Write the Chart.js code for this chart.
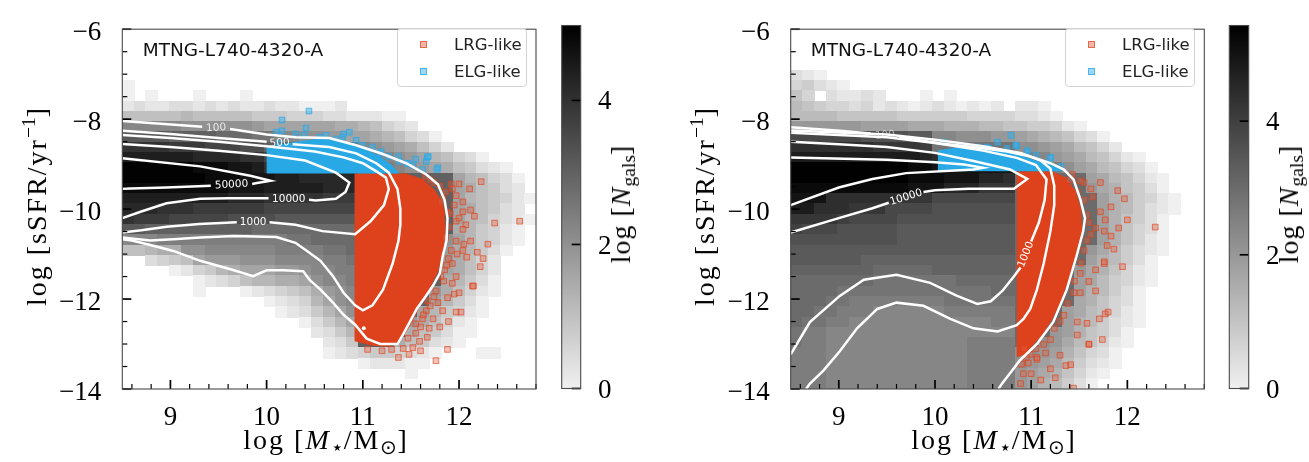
<!DOCTYPE html>
<html>
<head>
<meta charset="utf-8">
<title>MTNG-L740-4320-A sSFR vs stellar mass</title>
<script src="https://cdn.jsdelivr.net/npm/chart.js@4.4.1/dist/chart.umd.min.js"></script>
<style>
  body { margin: 0; background: #fff; }
  #wrap { position: relative; width: 1309px; height: 462px; overflow: hidden; }
  canvas { position: absolute; top: 0; }
  .math { position: absolute; font-family: "Liberation Serif", serif; font-size: 28px; line-height: 1; white-space: nowrap; color: #000; letter-spacing: 2px; }
  .math sub, .math sup { font-size: 0.7em; line-height: 0; letter-spacing: 0; }
  .math sup { vertical-align: 0.55em; }
  .math sub { vertical-align: -0.25em; }
  .rot { transform: translate(-50%, -50%) rotate(-90deg); }
  .xlab { transform: translateX(-50%); }
  .title { position: absolute; font-family: "DejaVu Sans", sans-serif; font-size: 18.5px; line-height: 1; color: #111; white-space: nowrap; }
  .legend { position: absolute; top: 28px; width: 128px; height: 57px; border: 1px solid #d3d3d3; border-radius: 4px; background: rgba(255,255,255,0.85); }
  .legend .mk { position: absolute; left: 21.7px; width: 5px; height: 5px; }
  .legend .tx { position: absolute; left: 56px; font-family: "DejaVu Sans", sans-serif; font-size: 16.5px; line-height: 1; color: #222; white-space: nowrap; }
</style>
</head>
<body>
<div id="wrap">
  <canvas id="mainL" width="560" height="462" style="left:0px"></canvas>
  <canvas id="cbarL" width="120" height="462" style="left:545px"></canvas>
  <canvas id="mainR" width="560" height="462" style="left:668px"></canvas>
  <canvas id="cbarR" width="96" height="462" style="left:1213px"></canvas>

  <div class="title" id="titleL" style="left:142.7px;top:41px"></div>
  <div class="title" id="titleR" style="left:810.7px;top:41px"></div>

  <div class="legend" style="left:397px">
    <div class="mk" style="top:12px;background:rgba(230,110,80,0.5);border:1px solid rgba(222,66,28,0.65)"></div>
    <div class="tx lrg" style="top:7.7px"></div>
    <div class="mk" style="top:39px;background:rgba(60,175,235,0.5);border:1px solid rgba(40,168,229,0.7)"></div>
    <div class="tx elg" style="top:34.7px"></div>
  </div>
  <div class="legend" style="left:1065px">
    <div class="mk" style="top:12px;background:rgba(230,110,80,0.5);border:1px solid rgba(222,66,28,0.65)"></div>
    <div class="tx lrg" style="top:7.7px"></div>
    <div class="mk" style="top:39px;background:rgba(60,175,235,0.5);border:1px solid rgba(40,168,229,0.7)"></div>
    <div class="tx elg" style="top:34.7px"></div>
  </div>

  <div class="math rot" style="left:37px;top:206px">log [sSFR/yr<sup>−1</sup>]</div>
  <div class="math rot" style="left:705px;top:206px">log [sSFR/yr<sup>−1</sup>]</div>
  <div class="math xlab" style="left:326px;top:426px">log [<i>M</i><sub>⋆</sub>/M<sub>⊙</sub>]</div>
  <div class="math xlab" style="left:994px;top:426px">log [<i>M</i><sub>⋆</sub>/M<sub>⊙</sub>]</div>
  <div class="math rot" style="left:621px;top:204px;letter-spacing:1px">log [<i>N</i><sub>gals</sub>]</div>
  <div class="math rot" style="left:1289px;top:204px;letter-spacing:1px">log [<i>N</i><sub>gals</sub>]</div>
</div>
<script>
// ---- values ----
const panelTitle = 'MTNG-L740-4320-A';
const seriesNames = ['LRG-like', 'ELG-like'];

const xRange = [8.5, 12.8];
const yRange = [-14, -6];
const nBinsX = 35;
const nBinsY = 35;
// one character per bin, top row (sSFR = -6) first; '.' = empty bin,
// '0'..'R' = log N_gals in steps of 0.2
const levelChars = '0123456789ABCDEFGHIJKLMNOPQR';

const histLeft = [
  '...................................',
  '...................................',
  '...................................',
  '...................................',
  '...................................',
  '0..................................',
  '0.0...0...0........................',
  '1211221212112110001................',
  '555556555554443332211100...........',
  'BBBBBAAAAAA98888887765321..........',
  'GGGGFFFFEEEDDBBAA9988765320........',
  'KKKKJJJIIIHHFFFFFFFFBA987531.......',
  'MMMMMMLLLLKKIIIIIIIICCBA9865320....',
  'PPPPPPOOONNMKKKKKKKKEDCBA98754210..',
  'PPPPPPPOOONNNMMLLLLLFFFFFFFF865320.',
  'OOOOOOOOONNNMMMMMLLLFFFFFFFF875421.',
  'MMMMMMMMMLLLKKKKKJJJFFFFFFFF8654310',
  'LLLKKKJJJJJJIIIIIIIIFFFFFFFF875421.',
  'KJJJIIIIIHHHHGGGGGGGFFFFFFFF8653210',
  'GGFFFFFFFFFEEEEEEEEEFFFFFFFF764310.',
  'BBBCCCCCCCCCCCDDEEEEFFFFFFFA864310.',
  '55677AABBBBBBCCCCDDEFFFFFFF976420..',
  '..23458999AAABBBBCCDFFFFFFF97531...',
  '....01346788899ABBCCFFFFFFF87531...',
  '......0123566778ABBCFFFFFFF76420...',
  '......0...01234579ABFFFFFF975310...',
  '............012368ABFFFFFF86420....',
  '.............012468AFFFFF864310....',
  '...............02468FFFF975310.....',
  '................1246FFFF754200.....',
  '.................124FFF754210......',
  '.................0123443210...00...',
  '....................011100.........',
  '........................0..........',
  '...................................'
];

const histRight = [
  '...................................',
  '...................................',
  '...................................',
  '...................................',
  '210................................',
  '34210..............................',
  '53.21121...0.0.....................',
  '654332312101210101.110.............',
  '66665555544444433332210............',
  'AAAAAA9999888777665544310..........',
  'JJJJJJIIIIHHCCBBBAA98765320........',
  'MMMMMMMLLLLKEEEEEEEBBA986531.......',
  'OOOOOOOOOOONMMMMMMMFDCA9865310.....',
  'RRRRRRRRRRQQPPPPPPPKHFDB9865320....',
  'RRRRRRRRRRQQQPPPNNMFFFFFF9865310...',
  'QQQQQQQQQQPPPNNNLLLFFFFFFA875420...',
  'PPPMMMMMMLLLJJJJJJJFFFFFFF9764310..',
  'OOMMMLLLJJJJIIIIIIIFFFFFFF9764210..',
  'LLLLKJJJJIIIIIIIIIIFFFFFFF975420...',
  'KJJJIIIIIHHHHHHHHHHFFFFFFF975320...',
  'IIIIIIIIIHHHHHHHHHHFFFFFFF975310...',
  'HHHHHHHHHHHHHHHHHHHFFFFFFA864210...',
  'HHHHHHGGGGGGGGGGGGGFFFFFF976420....',
  'GGGGGGGFFFFFGGGGGGGFFFFFA875310....',
  'FFFFFFFEEEEEEEFFFFFFFFFF9864310....',
  'FFFFEEEEEEEEEEEEEFFFFFFF976420.....',
  'FFFEEDDDDDDDDEEEEEEFFFFF875320.....',
  'FFEEDDDCCCCCCDDDDDDFFFF9865310.....',
  'FEEDDCCCCCCCCCCCCDDFFFF9764210.....',
  'EDDCCCCCCCCCCCCCCCCFFFA975420......',
  'EDDCCCCCCCCCCCCDDDDFFBA865310......',
  'DDDCCCCCCCCCCCCDDDDBBA975320.......',
  'DDDCCCCCCCCCCCCDDDDBA9864210.......',
  'DDDCCCCCCCCCCCCDDDDA9875310........',
  'DDDCCCCCCCCCCCCDDDDA976420.........'
];

const cbarMaxLeft = 5.04;
const cbarMaxRight = 5.43;
const cbarTicks = [0, 2, 4];
const xMajorTicks = [9, 10, 11, 12];
const yMajorTicks = [-14, -12, -10, -8, -6];

// contour lines (white), split where the inline labels sit
const contoursLeft = [
  [[8.5,-8.04],[8.9,-8.1],[9.33,-8.17]],
  [[9.62,-8.22],[10.0,-8.34],[10.3,-8.4],[10.65,-8.42],[10.93,-8.58],[11.2,-8.77],[11.45,-8.98],[11.66,-9.23],[11.78,-9.45],[11.85,-9.8],[11.88,-10.2],[11.87,-10.7],[11.83,-11.05],[11.8,-11.43],[11.73,-11.7],[11.66,-11.92],[11.56,-12.22],[11.49,-12.5],[11.42,-12.78],[11.36,-13.0],[11.18,-13.0],[11.04,-12.88],[10.92,-12.57],[10.8,-12.35],[10.69,-12.08],[10.56,-11.79],[10.45,-11.58],[10.38,-11.38],[10.17,-11.36],[10.0,-11.36],[9.86,-11.49],[9.66,-11.36],[9.31,-11.15],[9.03,-10.93],[8.76,-10.78],[8.6,-10.7],[8.5,-10.67]],
  [[8.5,-8.26],[9.0,-8.33],[9.5,-8.42],[10.0,-8.5]],
  [[10.27,-8.56],[10.65,-8.62],[10.93,-8.76],[11.14,-8.98],[11.27,-9.19],[11.36,-9.55],[11.39,-9.99],[11.39,-10.35],[11.37,-10.71],[11.31,-11.21],[11.21,-11.79],[11.1,-12.14],[11.0,-12.25],[10.92,-12.14],[10.8,-11.86],[10.69,-11.49],[10.56,-11.15],[10.42,-10.93],[10.3,-10.75],[10.1,-10.62],[9.66,-10.6],[9.31,-10.63],[9.03,-10.67],[8.79,-10.7],[8.5,-10.63]],
  [[8.5,-8.35],[9.0,-8.42],[9.5,-8.5],[10.0,-8.6],[10.5,-8.72],[10.8,-8.85],[11.0,-8.98],[11.14,-9.16],[11.24,-9.3],[11.27,-9.55],[11.22,-9.91],[11.08,-10.27],[10.92,-10.56],[10.58,-10.49],[10.3,-10.35],[10.03,-10.29]],
  [[9.69,-10.29],[9.3,-10.33],[8.96,-10.39],[8.7,-10.47],[8.5,-10.52]],
  [[8.5,-8.55],[9.0,-8.62],[9.5,-8.7],[10.0,-8.8],[10.4,-8.92],[10.72,-9.19],[10.86,-9.41],[10.82,-9.62],[10.72,-9.77],[10.51,-9.81],[10.44,-9.79]],
  [[10.02,-9.76],[9.6,-9.76],[9.31,-9.77],[8.96,-9.87],[8.69,-10.06],[8.5,-10.2]],
  [[8.5,-8.87],[9.31,-9.05],[9.83,-9.26],[10.04,-9.37],[9.9,-9.42],[9.85,-9.44]],
  [[9.42,-9.48],[8.96,-9.52],[8.5,-9.55]]
];
const contourLabelsLeft = [
  { t: '100', x: 9.475, y: -8.195, r: -4, a: 0.8 },
  { t: '500', x: 10.135, y: -8.53, r: -4, a: 0.95 },
  { t: '50000', x: 9.635, y: -9.46, r: -3, a: 1 },
  { t: '10000', x: 10.23, y: -9.775, r: 0, a: 1 },
  { t: '1000', x: 9.86, y: -10.29, r: 0, a: 1 }
];
const dotsLeft = [[11.01, -12.65]];

const contoursRight = [
  [[8.5,-8.18],[9.01,-8.26],[9.33,-8.32]],
  [[9.63,-8.4],[10.06,-8.54],[10.4,-8.62],[10.75,-8.72],[10.99,-8.83],[11.2,-8.98],[11.34,-9.12],[11.44,-9.34],[11.51,-9.77],[11.56,-10.2],[11.54,-10.5],[11.47,-11.06],[11.37,-11.79],[11.23,-12.51],[11.06,-13.0],[10.88,-13.37],[10.78,-13.65],[10.7,-13.87],[10.66,-14.0]],
  [[8.5,-8.25],[9.5,-8.34],[10.0,-8.46],[10.5,-8.6],[10.9,-8.76],[11.1,-8.92],[11.2,-9.1],[11.24,-9.48],[11.24,-9.91],[11.2,-10.49],[11.13,-11.21],[11.06,-11.79],[10.99,-12.22],[10.92,-12.44],[10.85,-12.58],[10.65,-12.72],[10.4,-12.65],[10.16,-12.44],[9.88,-12.15],[9.6,-12.08],[9.4,-12.22],[9.19,-12.65],[9.01,-13.16],[8.84,-13.59],[8.7,-13.88],[8.66,-14.0]],
  [[8.5,-8.3],[9.5,-8.4],[10.0,-8.53],[10.5,-8.7],[10.85,-8.86],[11.05,-9.02],[11.16,-9.34],[11.14,-9.8],[11.08,-10.3],[11.0,-10.72]],
  [[10.89,-11.3],[10.82,-11.5],[10.7,-11.82],[10.58,-12.05],[10.44,-12.11],[10.23,-11.93],[9.95,-11.64],[9.6,-11.46],[9.26,-11.57],[9.01,-11.93],[8.7,-12.51],[8.5,-13.23]],
  [[8.5,-8.5],[9.0,-8.56],[9.5,-8.62],[10.0,-8.75],[10.4,-8.93],[10.78,-9.12],[10.96,-9.33],[10.82,-9.55],[10.35,-9.55],[10.0,-9.58],[9.88,-9.62]],
  [[9.52,-9.86],[9.35,-9.98],[9.0,-10.2],[8.5,-10.52]],
  [[8.5,-8.85],[9.5,-8.9],[10.0,-8.96],[10.3,-9.01],[10.5,-9.08],[10.4,-9.12],[9.7,-9.2],[9.35,-9.33],[9.0,-9.52],[8.5,-9.91]]
];
const contourLabelsRight = [
  { t: '100', x: 9.48, y: -8.36, r: -4, a: 0.55 },
  { t: '10000', x: 9.7, y: -9.74, r: -17, a: 1 },
  { t: '1000', x: 10.945, y: -11.01, r: -68, a: 1 }
];

// areas where the selected galaxies pile up into a solid patch
const lrgCoreLeft = [[10.914,-9.21],[11.45,-9.21],[11.62,-9.33],[11.76,-9.6],[11.84,-9.95],[11.86,-10.4],[11.84,-10.9],[11.78,-11.4],[11.7,-11.75],[11.6,-12.14],[11.49,-12.6],[11.39,-12.94],[11.25,-13.06],[11.1,-13.04],[10.914,-12.94],[10.914,-9.21]];
const elgCoreLeft = [[10.0,-9.21],[10.0,-8.62],[10.3,-8.5],[10.56,-8.43],[10.77,-8.47],[10.98,-8.62],[11.18,-8.83],[11.3,-9.02],[11.38,-9.21],[10.0,-9.21]];
const lrgCoreRight = [[10.85,-9.16],[11.22,-9.16],[11.36,-9.3],[11.46,-9.6],[11.52,-10.0],[11.53,-10.5],[11.47,-11.0],[11.4,-11.5],[11.32,-12.0],[11.22,-12.45],[11.12,-12.78],[11.02,-13.02],[10.94,-13.22],[10.85,-13.3],[10.85,-9.16]];
const elgCoreRight = [[10.03,-9.16],[10.03,-8.69],[10.3,-8.6],[10.6,-8.63],[10.85,-8.78],[11.05,-8.92],[11.27,-9.05],[11.32,-9.16],[10.03,-9.16]];

// individual galaxies outside the solid patches
const lrgLeft = [
  [12.23,-9.39],[12.63,-10.27],[12.11,-9.55],[12.0,-9.44],[11.92,-9.44],[11.97,-9.7],[12.04,-9.84],[12.12,-10.02],[12.16,-10.16],[12.37,-10.31],
  [12.07,-10.35],[11.97,-10.27],[12.04,-10.45],[12.12,-10.71],[12.3,-10.78],[12.19,-10.96],[12.25,-11.1],[11.97,-10.71],[11.92,-10.92],[11.93,-11.21],
  [12.14,-11.71],[11.97,-11.5],[11.85,-11.35],[11.95,-11.89],[11.76,-11.82],[11.67,-12.04],[11.78,-12.08],[11.97,-12.29],[11.73,-12.44],[11.66,-12.26],
  [11.6,-12.62],[11.8,-12.62],[11.69,-12.65],[11.55,-12.76],[11.47,-12.87],[11.48,-13.23],[11.88,-13.12],[11.76,-13.37],[11.52,-13.08],[11.59,-12.94],
  [11.62,-12.44],[11.83,-12.26],[11.88,-11.97],[12.04,-10.92],[11.86,-10.63],[11.88,-10.06],[11.83,-9.77],[11.86,-9.62],[11.8,-9.48],[11.95,-9.91],
  [12.04,-10.06],[11.74,-9.41],[12.22,-11.28],[12.15,-11.71],[12.0,-11.86],[12.02,-12.29],[12.08,-11.07],[12.05,-10.78],[11.9,-10.4],[11.91,-10.1],
  [11.89,-11.1],[11.84,-11.6],[11.74,-11.95],[11.63,-12.35],[11.55,-12.55],[11.42,-13.1],[11.3,-13.12],[11.2,-13.15],[11.05,-13.12],[11.7,-9.35],
  [11.65,-9.28],[11.82,-9.85],[11.93,-9.55],[12.0,-10.2],[11.98,-11.0],[11.87,-11.25],[11.81,-11.5],[11.93,-11.65],[11.7,-12.15],[11.89,-12.5],
  [11.67,-12.85],[11.37,-13.3],[11.6,-13.15]
];
const elgLeft = [
  [10.44,-7.82],[10.16,-8.02],[10.16,-8.26],[10.41,-8.2],[10.39,-8.36],[10.62,-8.36],[10.72,-8.44],[10.79,-8.4],[10.86,-8.29],[10.93,-8.47],
  [11.0,-8.58],[11.19,-8.72],[11.37,-8.83],[11.47,-8.99],[11.55,-8.89],[11.67,-8.85],[11.66,-8.94],[11.78,-9.08],[11.62,-9.12],[11.52,-9.03],
  [10.1,-8.29],[10.13,-8.54],[10.3,-8.33],[10.55,-8.4],[11.1,-8.62],[11.27,-8.83],[11.38,-8.94],[10.8,-8.33],[11.18,-8.77],[11.46,-8.98],
  [11.68,-8.83],[11.77,-9.12]
];
const lrgRight = [
  [12.29,-10.4],[12.0,-10.24],[11.91,-10.42],[11.72,-9.41],[11.9,-9.59],[11.55,-9.41],[11.64,-9.73],[11.83,-9.95],[11.77,-10.24],[11.76,-10.49],
  [11.83,-10.6],[11.95,-11.28],[11.86,-10.89],[11.76,-11.21],[11.67,-11.35],[11.6,-11.61],[11.67,-11.82],[11.51,-11.86],[11.77,-12.33],[11.71,-12.44],
  [11.58,-12.54],[11.74,-12.9],[11.6,-13.01],[11.48,-12.8],[11.36,-13.48],[11.41,-13.46],[11.2,-13.55],[11.06,-13.34],[10.99,-13.23],[10.92,-13.66],
  [10.89,-13.88],[11.13,-13.01],[11.24,-12.65],[11.34,-12.36],[11.44,-11.86],[11.51,-11.43],[11.55,-10.92],[11.62,-10.56],[11.58,-10.13],[11.48,-9.62],
  [11.43,-9.23],[11.51,-9.37],[11.72,-10.06],[11.67,-10.42],[11.79,-10.81],[11.97,-9.77],[11.76,-11.17],[11.8,-12.29],[11.48,-12.51],[11.6,-13.0],
  [11.0,-13.66],[10.97,-13.42],[11.06,-13.3],[11.44,-13.98],[11.55,-9.8],[11.6,-10.3],[11.58,-10.7],[11.52,-11.2],[11.45,-11.6],[11.38,-12.1],
  [11.3,-12.5],[11.2,-12.9],[11.05,-13.1],[10.93,-13.1],[10.95,-13.3],[11.15,-13.2],[11.3,-13.25],[10.9,-13.45],[11.1,-13.8],[11.25,-13.75],
  [11.62,-9.55],[11.4,-9.35]
];
const elgRight = [
  [10.79,-8.36],[10.65,-8.51],[10.85,-8.6],[10.75,-8.65],[10.96,-8.7],[10.44,-8.62],[10.56,-8.65],[11.2,-8.85],[11.31,-9.05],[11.13,-8.98],
  [10.09,-8.51],[10.3,-8.6],[10.84,-8.58],[10.96,-8.73],[11.2,-8.87],[10.54,-8.62],[11.05,-8.8]
];

// ---- drawing ----
const lrgCoreColor = 'rgb(222,66,28)';
const elgCoreColor = 'rgb(40,168,229)';
const serif = '"Liberation Serif", serif';

function toXY(arr) {
  return arr.map(p => ({ x: p[0], y: p[1] }));
}

function greyFor(v, vmax) {
  const g = Math.round(240 * (1 - Math.min(v, vmax) / vmax));
  return `rgb(${g},${g},${g})`;
}

function tickValues(min, max, step) {
  const out = [];
  const n = Math.round((max - min) / step);
  for (let i = 0; i <= n; i++) out.push(+(min + i * step).toFixed(4));
  return out;
}

const heatmapPlugin = {
  id: 'heatmap',
  beforeDatasetsDraw(chart, args, opts) {
    if (!opts.grid) return;
    const { ctx, chartArea: a, scales: { x, y } } = chart;
    const dx = (xRange[1] - xRange[0]) / nBinsX;
    const dy = (yRange[1] - yRange[0]) / nBinsY;
    ctx.save();
    ctx.beginPath();
    ctx.rect(a.left, a.top, a.width, a.height);
    ctx.clip();
    opts.grid.forEach((row, r) => {
      const yTop = yRange[1] - r * dy;
      for (let c = 0; c < row.length; c++) {
        const k = levelChars.indexOf(row[c]);
        if (k < 0) continue;
        const x0 = Math.floor(x.getPixelForValue(xRange[0] + c * dx));
        const x1 = Math.ceil(x.getPixelForValue(xRange[0] + (c + 1) * dx));
        const y0 = Math.floor(y.getPixelForValue(yTop));
        const y1 = Math.ceil(y.getPixelForValue(yTop - dy));
        ctx.fillStyle = greyFor(k * 0.2, opts.vmax);
        ctx.fillRect(x0, y0, x1 - x0, y1 - y0);
      }
    });
    ctx.restore();
  }
};

const contourLabelPlugin = {
  id: 'contourLabels',
  afterDatasetsDraw(chart, args, opts) {
    if (!opts.labels) return;
    const { ctx, scales: { x, y } } = chart;
    ctx.save();
    ctx.font = '10.5px "DejaVu Sans", sans-serif';
    ctx.textAlign = 'center';
    ctx.textBaseline = 'middle';
    opts.labels.forEach(l => {
      ctx.save();
      ctx.translate(x.getPixelForValue(l.x), y.getPixelForValue(l.y));
      ctx.rotate(l.r * Math.PI / 180);
      ctx.fillStyle = `rgba(255,255,255,${l.a})`;
      ctx.fillText(l.t, 0, 0);
      ctx.restore();
    });
    ctx.restore();
  }
};

// frame plus inward tick marks, matplotlib style
const framePlugin = {
  id: 'frame',
  afterDraw(chart, args, opts) {
    const { ctx, chartArea: a } = chart;
    ctx.save();
    ctx.strokeStyle = '#000';
    (opts.axes || []).forEach(ax => {
      const scale = chart.scales[ax.id];
      scale.ticks.forEach(t => {
        const major = ax.major.includes(t.value);
        const len = major ? 9 : 5;
        ctx.lineWidth = major ? 1.7 : 1.2;
        const p = scale.getPixelForValue(t.value);
        ctx.beginPath();
        if (ax.side === 'bottom') { ctx.moveTo(p, a.bottom); ctx.lineTo(p, a.bottom - len); }
        if (ax.side === 'left') { ctx.moveTo(a.left, p); ctx.lineTo(a.left + len, p); }
        if (ax.side === 'right') { ctx.moveTo(a.right, p); ctx.lineTo(a.right - len, p); }
        ctx.stroke();
      });
    });
    ctx.strokeStyle = '#4a4a4a';
    ctx.lineWidth = 1.1;
    ctx.strokeRect(a.left, a.top, a.width, a.height);
    ctx.restore();
  }
};

const xAllTicks = tickValues(8.6, 12.8, 0.2);
const yAllTicks = tickValues(-14, -6, 0.5);

function buildPanel(id, o) {
  const datasets = [];
  o.contours.forEach(seg => datasets.push({
    type: 'line', data: toXY(seg), borderColor: '#ffffff', borderWidth: 2.5,
    pointRadius: 0, tension: 0, fill: false, order: 0
  }));
  if (o.dots.length) {
    datasets.push({ type: 'scatter', data: toXY(o.dots), pointStyle: 'circle', pointRadius: 2,
      backgroundColor: '#ffffff', borderWidth: 0, order: 0 });
  }
  datasets.push({ type: 'scatter', label: seriesNames[1], data: toXY(o.elg), pointStyle: 'rect', pointRadius: 4,
    backgroundColor: 'rgba(60,175,235,0.5)', borderColor: 'rgba(40,168,229,0.7)', borderWidth: 1, order: 1 });
  datasets.push({ type: 'scatter', label: seriesNames[0], data: toXY(o.lrg), pointStyle: 'rect', pointRadius: 4,
    backgroundColor: 'rgba(230,100,70,0.38)', borderColor: 'rgba(222,66,28,0.65)', borderWidth: 1, order: 1 });
  datasets.push({ type: 'line', data: toXY(o.elgCore), fill: 'shape', backgroundColor: elgCoreColor,
    borderWidth: 0, pointRadius: 0, tension: 0, order: 2 });
  datasets.push({ type: 'line', data: toXY(o.lrgCore), fill: 'shape', backgroundColor: lrgCoreColor,
    borderWidth: 0, pointRadius: 0, tension: 0, order: 2 });

  return new Chart(document.getElementById(id), {
    type: 'scatter',
    data: { datasets },
    options: {
      responsive: false,
      animation: false,
      events: [],
      layout: { padding: { left: 0, right: o.rightPad, top: 19, bottom: 0 } },
      plugins: {
        legend: { display: false },
        tooltip: { enabled: false },
        heatmap: { grid: o.hist, vmax: o.vmax },
        contourLabels: { labels: o.labels },
        frame: { axes: [{ id: 'x', side: 'bottom', major: xMajorTicks }, { id: 'y', side: 'left', major: yMajorTicks }] }
      },
      scales: {
        x: {
          type: 'linear', min: xRange[0], max: xRange[1],
          grid: { display: false }, border: { display: false },
          afterBuildTicks: s => { s.ticks = xAllTicks.map(v => ({ value: v })); },
          afterFit: s => { s.height = 73; },
          ticks: {
            autoSkip: false, maxRotation: 0, padding: 5, color: '#000',
            font: { family: serif, size: 27 },
            callback: v => xMajorTicks.includes(v) ? String(v) : ''
          }
        },
        y: {
          type: 'linear', min: yRange[0], max: yRange[1],
          grid: { display: false }, border: { display: false },
          afterBuildTicks: s => { s.ticks = yAllTicks.map(v => ({ value: v })); },
          afterFit: s => { s.width = o.axisW; },
          ticks: {
            autoSkip: false, padding: 13, labelOffset: 4, color: '#000',
            font: { family: serif, size: 27 },
            callback: v => yMajorTicks.includes(v) ? '\u2212' + Math.abs(v) : ''
          }
        }
      }
    },
    plugins: [heatmapPlugin, contourLabelPlugin, framePlugin]
  });
}

function buildColorbar(id, vmax, padLeft, axisW) {
  return new Chart(document.getElementById(id), {
    type: 'bar',
    data: {
      labels: ['log N'],
      datasets: [{
        data: [[0, vmax]],
        barPercentage: 1, categoryPercentage: 1, borderWidth: 0,
        backgroundColor: ctx => {
          const a = ctx.chart.chartArea;
          if (!a) return '#888';
          const g = ctx.chart.ctx.createLinearGradient(0, a.bottom, 0, a.top);
          g.addColorStop(0, greyFor(0, vmax));
          g.addColorStop(1, greyFor(vmax, vmax));
          return g;
        }
      }]
    },
    options: {
      responsive: false,
      animation: false,
      events: [],
      layout: { padding: { left: padLeft, right: 0, top: 19, bottom: 73.5 } },
      plugins: {
        legend: { display: false },
        tooltip: { enabled: false },
        frame: { axes: [{ id: 'y', side: 'right', major: cbarTicks }] }
      },
      scales: {
        x: { display: false },
        y: {
          position: 'right', min: 0, max: vmax,
          grid: { display: false }, border: { display: false },
          afterBuildTicks: s => { s.ticks = cbarTicks.map(v => ({ value: v })); },
          afterFit: s => { s.width = axisW; },
          ticks: { padding: 9.3, labelOffset: 2, color: '#000', font: { family: serif, size: 27 }, callback: v => String(v) }
        }
      }
    },
    plugins: [framePlugin]
  });
}

document.getElementById('titleL').textContent = panelTitle;
document.getElementById('titleR').textContent = panelTitle;
document.querySelectorAll('.legend .lrg').forEach(el => { el.textContent = seriesNames[0]; });
document.querySelectorAll('.legend .elg').forEach(el => { el.textContent = seriesNames[1]; });

buildPanel('mainL', {
  hist: histLeft, vmax: cbarMaxLeft, contours: contoursLeft, labels: contourLabelsLeft, dots: dotsLeft,
  lrg: lrgLeft, elg: elgLeft, lrgCore: lrgCoreLeft, elgCore: elgCoreLeft, axisW: 122.3, rightPad: 24
});
buildPanel('mainR', {
  hist: histRight, vmax: cbarMaxRight, contours: contoursRight, labels: contourLabelsRight, dots: [],
  lrg: lrgRight, elg: elgRight, lrgCore: lrgCoreRight, elgCore: elgCoreRight, axisW: 122.7, rightPad: 23.7
});
buildColorbar('cbarL', cbarMaxLeft, 16.7, 84.3);
buildColorbar('cbarR', cbarMaxRight, 16.3, 60.3);
</script>
</body>
</html>
